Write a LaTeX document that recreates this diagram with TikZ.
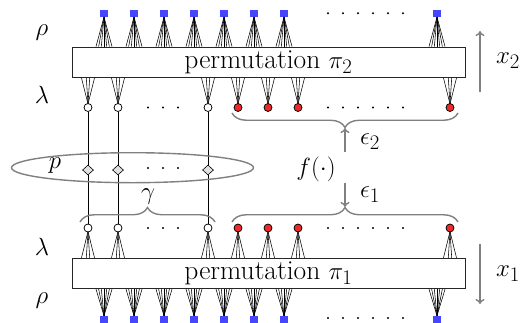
\documentclass[tikz,border=0pt]{standalone}
\usetikzlibrary{shapes.geometric,decorations.pathreplacing,calc,arrows.meta}
\definecolor{sqblue}{RGB}{70,70,255}
\definecolor{nodered}{RGB}{240,40,40}
\definecolor{ggray}{RGB}{128,128,128}
\begin{document}
\begin{tikzpicture}[x=1pt,y=-1pt,
  font=\fontsize{27.5}{32}\selectfont,
  permbox/.style={draw=black!85, line width=0.9pt, minimum width=393pt, minimum height=30.5pt, inner sep=0pt},
  rhosq/.style={fill=sqblue, minimum width=8.5pt, minimum height=7pt, inner sep=0pt},
  lamopen/.style={circle, draw, fill=white, line width=0.75pt, minimum size=8pt, inner sep=0pt},
  lamred/.style={lamopen, fill=nodered},
  pdiam/.style={diamond, draw, fill=black!12, line width=0.6pt, minimum width=11pt, minimum height=10pt, inner sep=0pt},
  fan/.style={line width=0.55pt},
  vline/.style={line width=0.8pt},
  gline/.style={draw=ggray, line width=1.4pt},
  garrow/.style={gline, -{To[length=5pt,width=9pt]}},
  gbrace/.style={gline, decorate, decoration={brace, amplitude=14.5pt}},
]
\useasboundingbox (0,0) rectangle (524,322);

% permutation boxes
\node[permbox] (b2) at (268.5,62.25) {permutation $\pi_2$};
\node[permbox] (b1) at (268.5,273.5) {permutation $\pi_1$};

% rho squares and fans
\foreach \x [count=\i] in {104,134,164,194,224,254,284,437} {
  \node[rhosq] (s\i) at (\x,13.3) {};
  \foreach \d in {-8,-5.33,-2.67,0,2.67,5.33,8}
    \draw[fan] (s\i.south) -- ($(s\i.south |- b2.north)+(\d,0)$);
  \node[rhosq] (r\i) at (\x,319.5) {};
  \foreach \d in {-8,-5.33,-2.67,0,2.67,5.33,8}
    \draw[fan] (r\i.north) -- ($(r\i.north |- b1.south)+(\d,0)$);
}
\foreach \x in {328,343,...,403} {
  \fill (\x,13.3) circle (1.15pt);
  \fill (\x,318) circle (1.15pt);
  \fill (\x,107.5) circle (1.15pt);
  \fill (\x,228) circle (1.15pt);
}
\foreach \x in {148,163,178} {
  \fill (\x,107.5) circle (1.15pt);
  \fill (\x,228) circle (1.15pt);
  \fill (\x,168) circle (1.15pt);
}

% lambda nodes and fans
\foreach \x/\s [count=\i] in {88/lamopen,118/lamopen,208/lamopen,238/lamred,268/lamred,298/lamred,450/lamred} {
  \foreach \d in {-6.5,-1.7,1.7,6.5} {
    \draw[fan] ($(\x,104)$) -- ($(\x,104 |- b2.south)+(\d,0)$);
    \draw[fan] ($(\x,231.5)$) -- ($(\x,231.5 |- b1.north)+(\d,0)$);
  }
  \node[\s] (t\i) at (\x,107.5) {};
  \node[\s] (u\i) at (\x,228) {};
}

% vertical links with diamonds
\foreach \x [count=\i] in {88,118,208} {
  \node[pdiam] (d\i) at (\x,170) {};
  \draw[vline] (t\i) -- (d\i) -- (u\i);
}

% ellipse p
\node[ellipse, draw=ggray, line width=1.4pt, minimum width=242pt, minimum height=30pt, inner sep=0pt] (pe) at (132.5,167.7) {};
\node (plab) at (55,166) {$p$};

% braces
\coordinate (bta) at (458,113);
\coordinate (btb) at (232,113);
\draw[gbrace] (bta) -- (btb);
\coordinate (bba) at (232,222);
\coordinate (bbb) at (458,222);
\draw[gbrace] (bba) -- (bbb);
\coordinate (bga) at (80,222);
\coordinate (bgb) at (215,222);
\draw[gbrace] (bga) -- (bgb);
\node (gam) at (148,197) {$\gamma$};

% f and epsilons
\node (f) at (316,169) {$f(\cdot)$};
\coordinate (e2s) at (345,152);
\coordinate (e2e) at (345,128);
\draw[garrow] (e2s) -- (e2e);
\node (eps2) at (370,142) {$\epsilon_2$};
\coordinate (e1s) at (345,183);
\coordinate (e1e) at (345,207);
\draw[garrow] (e1s) -- (e1e);
\node (eps1) at (370,195) {$\epsilon_1$};

% side labels
\node (rho2) at (42,33) {$\rho$};
\node (lam2) at (42,95) {$\lambda$};
\node (lam1) at (42,247) {$\lambda$};
\node (rho1) at (42,301) {$\rho$};

% x arrows
\coordinate (x2s) at (480,92);
\coordinate (x2e) at (480,31);
\draw[garrow] (x2s) -- (x2e);
\node (x2) at (508,61) {$x_2$};
\coordinate (x1s) at (480,244);
\coordinate (x1e) at (480,304);
\draw[garrow] (x1s) -- (x1e);
\node (x1) at (508,274) {$x_1$};
\end{tikzpicture}
\end{document}
